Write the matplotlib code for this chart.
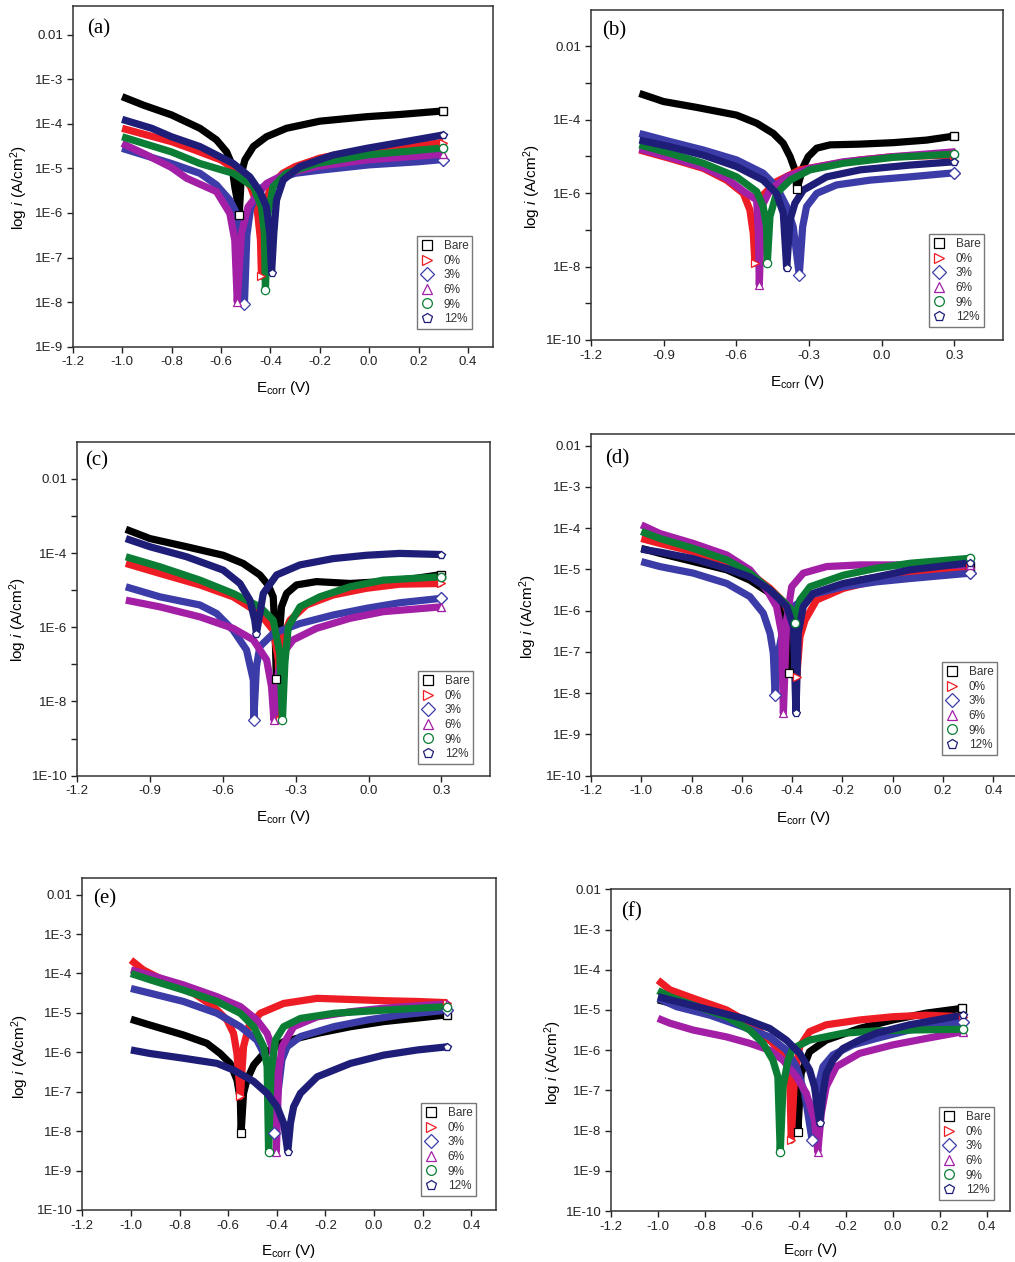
import matplotlib
matplotlib.use('Agg')
import matplotlib.pyplot as plt
from matplotlib.lines import Line2D

plt.rcParams['font.family'] = ['Liberation Sans', 'DejaVu Sans']
plt.rcParams['mathtext.fontset'] = 'custom'
plt.rcParams['mathtext.rm'] = 'Liberation Sans'
plt.rcParams['mathtext.it'] = 'Liberation Sans:italic'

SERIES = ['Bare', '0%', '3%', '6%', '9%', '12%']

# ---------------- data: potential E (V) and log10 current density ----------------
E_a = {
    'Bare': [-1.00, -0.914, -0.80, -0.685, -0.618, -0.577, -0.557, -0.544, -0.534, -0.526, -0.517, -0.503, -0.469, -0.416, -0.335, -0.20, -0.011, 0.124, 0.30],
    '0%': [-1.0, -0.9, -0.8, -0.7, -0.6, -0.52, -0.48, -0.46, -0.45, -0.44, -0.436, -0.43, -0.42, -0.40, -0.35, -0.30, -0.20, -0.10, 0.0, 0.1, 0.2, 0.3],
    '3%': [-1.0, -0.9, -0.8, -0.685, -0.618, -0.564, -0.537, -0.515, -0.505, -0.495, -0.48, -0.45, -0.40, -0.30, -0.20, 0.0, 0.2, 0.3],
    '6%': [-1.0, -0.9, -0.8, -0.739, -0.618, -0.564, -0.544, -0.534, -0.517, -0.49, -0.416, -0.335, -0.213, -0.011, 0.299],
    '9%': [-1.0, -0.80, -0.685, -0.55, -0.469, -0.436, -0.424, -0.42, -0.409, -0.389, -0.335, -0.213, -0.011, 0.124, 0.299],
    '12%': [-1.0, -0.88, -0.80, -0.685, -0.55, -0.483, -0.442, -0.416, -0.402, -0.395, -0.386, -0.375, -0.348, -0.281, -0.146, -0.011, 0.124, 0.299],
}
LOGI_a = {
    'Bare': [-3.39, -3.58, -3.80, -4.10, -4.36, -4.63, -4.89, -5.41, -5.71, -6.05, -5.11, -4.81, -4.51, -4.29, -4.10, -3.94, -3.84, -3.79, -3.71],
    '0%': [-4.10, -4.25, -4.40, -4.60, -4.81, -5.11, -5.41, -5.71, -6.08, -6.60, -7.42, -6.46, -5.86, -5.41, -5.11, -4.96, -4.77, -4.66, -4.59, -4.51, -4.48, -4.42],
    '3%': [-4.55, -4.72, -4.89, -5.11, -5.37, -5.71, -6.01, -6.70, -8.04, -6.50, -5.90, -5.49, -5.30, -5.11, -5.04, -4.92, -4.85, -4.80],
    '6%': [-4.44, -4.70, -4.98, -5.22, -5.52, -6.01, -6.61, -7.99, -6.46, -5.86, -5.34, -5.11, -4.96, -4.81, -4.68],
    '9%': [-4.29, -4.63, -4.89, -5.11, -5.41, -5.86, -6.46, -7.73, -6.01, -5.41, -5.11, -4.89, -4.70, -4.63, -4.54],
    '12%': [-3.90, -4.10, -4.29, -4.51, -4.89, -5.19, -5.52, -5.86, -6.46, -7.34, -6.46, -5.71, -5.26, -4.96, -4.70, -4.55, -4.42, -4.25],
}

E_b = {
    'Bare': [-1.0, -0.901, -0.764, -0.599, -0.516, -0.447, -0.406, -0.378, -0.358, -0.35, -0.323, -0.303, -0.268, -0.213, -0.09, 0.048, 0.186, 0.30],
    '0%': [-1.0, -0.874, -0.736, -0.64, -0.571, -0.544, -0.53, -0.523, -0.509, -0.489, -0.434, -0.337, -0.227, -0.089, 0.048, 0.30],
    '3%': [-1.0, -0.874, -0.736, -0.599, -0.489, -0.434, -0.392, -0.365, -0.34, -0.326, -0.31, -0.268, -0.186, -0.048, 0.117, 0.30],
    '6%': [-1.0, -0.874, -0.736, -0.64, -0.571, -0.516, -0.509, -0.505, -0.495, -0.461, -0.392, -0.296, -0.158, 0.048, 0.30],
    '9%': [-1.0, -0.874, -0.736, -0.599, -0.516, -0.489, -0.475, -0.472, -0.461, -0.434, -0.378, -0.296, -0.158, 0.048, 0.30],
    '12%': [-1.0, -0.874, -0.736, -0.599, -0.489, -0.434, -0.406, -0.392, -0.378, -0.358, -0.323, -0.227, -0.089, 0.117, 0.30],
}
LOGI_b = {
    'Bare': [-3.29, -3.51, -3.67, -3.88, -4.10, -4.38, -4.65, -5.01, -5.37, -5.90, -5.28, -5.01, -4.78, -4.69, -4.67, -4.63, -4.56, -4.45],
    '0%': [-4.83, -5.06, -5.33, -5.65, -6.01, -6.46, -7.10, -7.91, -6.46, -6.05, -5.69, -5.37, -5.24, -5.10, -5.01, -4.97],
    '3%': [-4.38, -4.60, -4.83, -5.10, -5.46, -5.83, -6.37, -6.92, -8.23, -6.92, -6.37, -6.01, -5.78, -5.65, -5.56, -5.45],
    '6%': [-4.80, -5.03, -5.30, -5.60, -5.95, -6.19, -7.10, -8.50, -6.37, -5.92, -5.56, -5.33, -5.15, -5.01, -4.88],
    '9%': [-4.69, -4.92, -5.19, -5.56, -5.96, -6.37, -6.92, -7.91, -6.64, -6.01, -5.65, -5.37, -5.19, -5.03, -4.94],
    '12%': [-4.56, -4.74, -4.97, -5.28, -5.65, -6.01, -6.55, -8.05, -6.73, -6.28, -5.92, -5.56, -5.37, -5.24, -5.15],
}

E_c = {
    'Bare': [-1.0, -0.901, -0.75, -0.599, -0.517, -0.448, -0.414, -0.393, -0.385, -0.38, -0.359, -0.338, -0.297, -0.215, -0.077, 0.06, 0.197, 0.30],
    '0%': [-1.0, -0.86, -0.695, -0.558, -0.448, -0.393, -0.372, -0.366, -0.359, -0.352, -0.324, -0.256, -0.146, -0.009, 0.128, 0.30],
    '3%': [-1.0, -0.86, -0.695, -0.626, -0.558, -0.503, -0.475, -0.473, -0.462, -0.448, -0.393, -0.283, -0.146, -0.009, 0.128, 0.30],
    '6%': [-1.0, -0.86, -0.695, -0.558, -0.475, -0.42, -0.40, -0.39, -0.372, -0.352, -0.311, -0.215, -0.077, 0.06, 0.30],
    '9%': [-1.0, -0.86, -0.695, -0.558, -0.448, -0.393, -0.366, -0.355, -0.345, -0.331, -0.283, -0.201, -0.077, 0.06, 0.30],
    '12%': [-1.0, -0.901, -0.75, -0.599, -0.53, -0.489, -0.469, -0.462, -0.434, -0.379, -0.283, -0.146, -0.009, 0.128, 0.30],
}
LOGI_c = {
    'Bare': [-3.36, -3.61, -3.83, -4.06, -4.28, -4.59, -4.86, -5.18, -6.20, -7.40, -5.45, -5.09, -4.86, -4.77, -4.82, -4.77, -4.68, -4.58],
    '0%': [-4.28, -4.55, -4.86, -5.18, -5.63, -6.08, -6.88, -8.50, -7.42, -6.25, -5.81, -5.40, -5.13, -4.95, -4.84, -4.82],
    '3%': [-4.91, -5.18, -5.40, -5.63, -6.08, -6.61, -7.42, -8.50, -7.06, -6.52, -6.17, -5.90, -5.67, -5.49, -5.34, -5.22],
    '6%': [-5.27, -5.45, -5.72, -6.03, -6.34, -6.88, -7.60, -8.50, -7.24, -6.70, -6.34, -6.03, -5.76, -5.58, -5.45],
    '9%': [-4.10, -4.37, -4.73, -5.09, -5.45, -5.81, -6.70, -8.50, -6.97, -5.99, -5.45, -5.18, -4.91, -4.73, -4.64],
    '12%': [-3.61, -3.83, -4.10, -4.46, -4.82, -5.27, -5.81, -6.17, -5.09, -4.59, -4.32, -4.15, -4.06, -4.01, -4.04],
}

E_d = {
    'Bare': [-1.0, -0.926, -0.793, -0.66, -0.568, -0.488, -0.448, -0.422, -0.411, -0.402, -0.382, -0.342, -0.263, -0.13, 0.069, 0.307],
    '0%': [-1.0, -0.926, -0.793, -0.66, -0.568, -0.488, -0.435, -0.402, -0.385, -0.382, -0.369, -0.349, -0.303, -0.197, -0.064, 0.069, 0.307],
    '3%': [-1.0, -0.926, -0.793, -0.66, -0.568, -0.515, -0.488, -0.475, -0.468, -0.455, -0.435, -0.395, -0.329, -0.197, -0.064, 0.069, 0.307],
    '6%': [-1.0, -0.926, -0.793, -0.66, -0.568, -0.501, -0.462, -0.442, -0.435, -0.422, -0.402, -0.356, -0.263, -0.13, 0.069, 0.307],
    '9%': [-1.0, -0.926, -0.793, -0.66, -0.568, -0.488, -0.435, -0.402, -0.389, -0.369, -0.329, -0.197, -0.064, 0.069, 0.307],
    '12%': [-1.0, -0.926, -0.793, -0.66, -0.568, -0.488, -0.422, -0.395, -0.385, -0.376, -0.356, -0.316, -0.197, -0.064, 0.069, 0.307],
}
LOGI_d = {
    'Bare': [-4.49, -4.61, -4.81, -5.01, -5.26, -5.58, -5.98, -6.63, -7.52, -6.55, -6.06, -5.74, -5.50, -5.26, -5.05, -4.93],
    '0%': [-4.25, -4.37, -4.57, -4.81, -5.09, -5.46, -5.78, -6.23, -7.03, -7.60, -6.63, -6.23, -5.74, -5.46, -5.26, -5.09, -4.96],
    '3%': [-4.81, -4.93, -5.09, -5.34, -5.66, -6.06, -6.55, -7.03, -8.04, -7.03, -6.39, -5.90, -5.62, -5.42, -5.30, -5.22, -5.09],
    '6%': [-3.92, -4.13, -4.37, -4.65, -5.01, -5.50, -5.90, -6.55, -8.49, -6.23, -5.42, -5.09, -4.93, -4.89, -4.89, -4.90],
    '9%': [-4.08, -4.25, -4.49, -4.77, -5.09, -5.50, -5.78, -5.98, -6.30, -5.74, -5.42, -5.14, -4.97, -4.85, -4.73],
    '12%': [-4.51, -4.58, -4.74, -4.98, -5.18, -5.50, -5.90, -6.39, -8.49, -6.55, -5.90, -5.58, -5.34, -5.18, -5.01, -4.84],
}

E_e = {
    'Bare': [-1.0, -0.921, -0.784, -0.688, -0.633, -0.592, -0.564, -0.55, -0.547, -0.537, -0.523, -0.495, -0.454, -0.372, -0.234, -0.097, 0.04, 0.301],
    '0%': [-1.0, -0.949, -0.853, -0.743, -0.66, -0.605, -0.578, -0.564, -0.55, -0.537, -0.516, -0.468, -0.372, -0.234, -0.097, 0.04, 0.178, 0.301],
    '3%': [-1.0, -0.921, -0.784, -0.646, -0.55, -0.482, -0.44, -0.427, -0.41, -0.399, -0.379, -0.358, -0.303, -0.166, -0.028, 0.109, 0.301],
    '6%': [-1.0, -0.921, -0.784, -0.646, -0.55, -0.482, -0.44, -0.42, -0.406, -0.402, -0.392, -0.379, -0.331, -0.234, -0.097, 0.04, 0.301],
    '9%': [-1.0, -0.921, -0.784, -0.646, -0.55, -0.495, -0.454, -0.44, -0.434, -0.424, -0.406, -0.372, -0.303, -0.166, 0.04, 0.301],
    '12%': [-1.0, -0.921, -0.784, -0.646, -0.578, -0.495, -0.44, -0.399, -0.372, -0.355, -0.344, -0.331, -0.303, -0.234, -0.097, 0.04, 0.178, 0.301],
}
LOGI_e = {
    'Bare': [-5.16, -5.31, -5.56, -5.77, -6.03, -6.28, -6.70, -7.21, -8.04, -7.04, -6.70, -6.32, -6.03, -5.73, -5.52, -5.35, -5.22, -5.05],
    '0%': [-3.66, -3.91, -4.21, -4.50, -4.84, -5.18, -5.52, -6.03, -7.12, -5.86, -5.35, -5.01, -4.76, -4.63, -4.66, -4.69, -4.71, -4.74],
    '3%': [-4.38, -4.50, -4.71, -5.01, -5.35, -5.69, -6.19, -7.04, -8.04, -7.21, -6.19, -5.86, -5.60, -5.35, -5.18, -5.05, -4.93],
    '6%': [-3.91, -4.04, -4.29, -4.59, -4.84, -5.18, -5.52, -5.86, -6.53, -8.52, -6.53, -5.86, -5.35, -5.10, -4.97, -4.88, -4.77],
    '9%': [-4.00, -4.16, -4.42, -4.71, -5.01, -5.35, -5.86, -6.36, -8.52, -6.53, -5.69, -5.35, -5.14, -5.01, -4.93, -4.84],
    '12%': [-5.94, -6.03, -6.15, -6.28, -6.45, -6.74, -7.04, -7.38, -7.80, -8.52, -7.80, -7.38, -7.04, -6.62, -6.28, -6.07, -5.94, -5.86],
}

E_f = {
    'Bare': [-1.0, -0.779, -0.637, -0.524, -0.467, -0.425, -0.408, -0.404, -0.39, -0.354, -0.283, -0.141, 0.0, 0.142, 0.296],
    '0%': [-1.0, -0.949, -0.85, -0.708, -0.609, -0.524, -0.467, -0.439, -0.432, -0.418, -0.396, -0.354, -0.283, -0.141, 0.0, 0.142, 0.30],
    '3%': [-1.0, -0.92, -0.779, -0.637, -0.524, -0.453, -0.41, -0.375, -0.343, -0.333, -0.319, -0.297, -0.255, -0.17, -0.07, 0.071, 0.30],
    '6%': [-1.0, -0.949, -0.85, -0.708, -0.609, -0.524, -0.467, -0.41, -0.368, -0.333, -0.319, -0.304, -0.283, -0.24, -0.141, 0.0, 0.142, 0.30],
    '9%': [-1.0, -0.949, -0.85, -0.708, -0.609, -0.552, -0.51, -0.489, -0.479, -0.467, -0.446, -0.425, -0.354, -0.212, -0.07, 0.071, 0.30],
    '12%': [-1.0, -0.92, -0.779, -0.637, -0.524, -0.453, -0.396, -0.354, -0.333, -0.311, -0.297, -0.283, -0.255, -0.212, -0.141, -0.07, 0.071, 0.30],
}
LOGI_f = {
    'Bare': [-4.75, -5.08, -5.37, -5.75, -6.00, -6.33, -6.74, -8.03, -6.58, -6.04, -5.75, -5.46, -5.25, -5.08, -4.96],
    '0%': [-4.26, -4.50, -4.71, -5.00, -5.33, -5.75, -6.08, -6.58, -8.24, -6.66, -5.91, -5.54, -5.37, -5.25, -5.17, -5.13, -5.17],
    '3%': [-4.71, -4.92, -5.13, -5.42, -5.67, -6.00, -6.41, -7.07, -8.24, -7.57, -6.91, -6.41, -6.12, -5.87, -5.71, -5.50, -5.29],
    '6%': [-5.21, -5.33, -5.50, -5.67, -5.83, -6.00, -6.25, -6.66, -7.07, -7.74, -8.53, -7.57, -6.91, -6.41, -6.08, -5.87, -5.71, -5.54],
    '9%': [-4.52, -4.67, -4.88, -5.17, -5.50, -5.83, -6.25, -6.66, -8.53, -6.91, -6.25, -5.96, -5.75, -5.58, -5.52, -5.50, -5.48],
    '12%': [-4.67, -4.79, -5.00, -5.21, -5.46, -5.75, -6.08, -6.49, -6.91, -7.82, -7.07, -6.58, -6.25, -5.96, -5.75, -5.58, -5.37, -5.13],
}

XTICKS_02 = [-1.2, -1.0, -0.8, -0.6, -0.4, -0.2, 0.0, 0.2, 0.4]
XTICKS_03 = [-1.2, -0.9, -0.6, -0.3, 0.0, 0.3]

# ---------------- styles ----------------
COLORS = {'Bare': '#000000', '0%': '#EE1C24', '3%': '#3C3CA8', '6%': '#A21FA6',
          '9%': '#0B7D35', '12%': '#1E1E78'}
MARKERS = {'Bare': 's', '0%': '>', '3%': 'D', '6%': '^', '9%': 'o', '12%': 'p'}

W, H = 1015, 1262
fig = plt.figure(figsize=(W / 100, H / 100), dpi=100)
fig.patch.set_facecolor('white')

PANELS = [
    ('(a)', E_a, LOGI_a, (72.7, 492.7, 6.0, 346.7), (-9, -1.356), XTICKS_02, 1,
     (99, 29), (19, 188), (283, 388), (417, 236)),
    ('(b)', E_b, LOGI_b, (591, 1002.7, 10.0, 340.0), (-10, -1.02), XTICKS_03, 2,
     (614, 31), (532, 187), (797, 382), (929, 234)),
    ('(c)', E_c, LOGI_c, (77.3, 490, 441.7, 775.7), (-10, -1.0), XTICKS_03, 2,
     (97, 461), (18, 620), (283, 817), (418, 671)),
    ('(d)', E_d, LOGI_d, (591, 1018.5, 434.3, 775.7), (-10, -1.724), XTICKS_02, 1,
     (617, 459), (528, 617), (803, 818), (942, 662)),
    ('(e)', E_e, LOGI_e, (82.3, 495.7, 877.7, 1210), (-10, -1.57), XTICKS_02, 1,
     (105, 899), (20, 1057), (288, 1251), (421, 1103)),
    ('(f)', E_f, LOGI_f, (611, 1010, 889.3, 1211), (-10, -2.0), XTICKS_02, 1,
     (632, 912), (553, 1063), (810, 1250), (939, 1107)),
]


def ylab(e):
    return '0.01' if e == -2 else '1E%d' % e


for (plab, Ed, Ld, (L, R, T, B), (ylo, yhi), xt, ystep,
     plpos, ylpos, xlpos, legpos) in PANELS:
    ax = fig.add_axes([L / W, 1 - B / H, (R - L) / W, (B - T) / H])
    for s in SERIES:
        ivals = [10 ** v for v in Ld[s]]
        ax.plot(Ed[s], ivals, '-', color=COLORS[s], lw=5.2, solid_capstyle='butt',
                solid_joinstyle='round', zorder=2)
        kmin = Ld[s].index(min(Ld[s]))
        # isolated point at the bottom of the corrosion-potential spike
        ax.plot([Ed[s][kmin]], [ivals[kmin]], linestyle='none', marker=MARKERS[s],
                ms=6, mfc='white', mec=COLORS[s], mew=0.9, zorder=4)
        # last point of the anodic branch
        ax.plot([Ed[s][-1]], [ivals[-1]], linestyle='none', marker=MARKERS[s], ms=6,
                mfc='white', mec=COLORS[s], mew=1.0, zorder=4)
    ax.set_yscale('log')
    ax.set_xlim(-1.2, 0.5)
    ax.set_ylim(10 ** ylo, 10 ** yhi)
    exps = list(range(ylo, -1))
    ax.set_yticks([10.0 ** e for e in exps])
    ax.set_yticklabels([ylab(e) if (e - ylo) % ystep == 0 else '' for e in exps])
    ax.yaxis.set_minor_locator(matplotlib.ticker.NullLocator())
    ax.set_xticks(xt)
    ax.set_xticklabels(['%.1f' % v for v in xt])
    ax.tick_params(direction='out', length=4, width=1.0, labelsize=9.5,
                   colors='#222222', pad=3)
    for sp in ax.spines.values():
        sp.set_linewidth(1.1)
        sp.set_color('#333333')

    fig.text(plpos[0] / W, 1 - plpos[1] / H, plab, ha='center', va='center',
             fontsize=15, family=['Liberation Serif', 'DejaVu Serif'])
    fig.text(ylpos[0] / W, 1 - ylpos[1] / H, r'log $i$ (A/cm$^2$)', rotation=90,
             ha='center', va='center', fontsize=11)
    fig.text(xlpos[0] / W, 1 - xlpos[1] / H, r'E$_{\mathrm{corr}}$ (V)',
             ha='center', va='center', fontsize=11)

    handles = [Line2D([], [], linestyle='none', marker=MARKERS[s], ms=7, mfc='none',
                      mec=COLORS[s], mew=0.9) for s in SERIES]
    leg = ax.legend(handles, SERIES, loc='upper left',
                    bbox_to_anchor=(legpos[0] / W, 1 - legpos[1] / H),
                    bbox_transform=fig.transFigure, borderaxespad=0,
                    fontsize=8.5, frameon=True, fancybox=False, handlelength=1.0,
                    handletextpad=0.9, borderpad=0.35, labelspacing=0.22)
    leg.get_frame().set_edgecolor('#555555')
    leg.get_frame().set_linewidth(1.0)
    for t in leg.get_texts():
        t.set_color('#333333')

fig.savefig('out.png', dpi=100)
